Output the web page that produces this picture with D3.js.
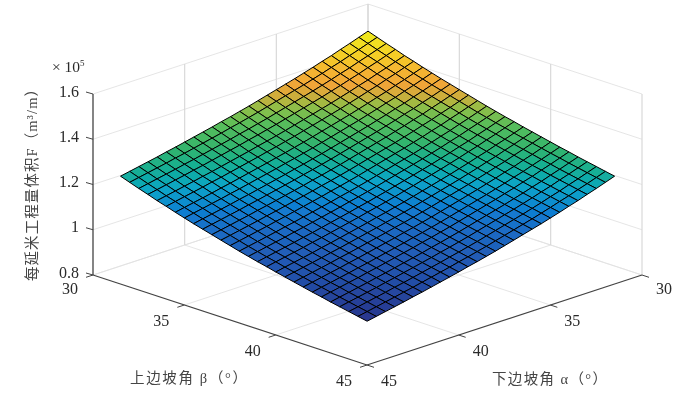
<!DOCTYPE html>
<html>
<head>
<meta charset="utf-8">
<script src="https://cdn.jsdelivr.net/npm/d3@7"></script>
<style>
  html, body { margin: 0; background: #fff; }
  text { font-family: "Liberation Serif", "Noto Sans CJK SC", serif; fill: #2a2a2a; }
</style>
</head>
<body>
<div id="chart"></div>
<script>
var alphaValues = [30,30.5,31,31.5,32,32.5,33,33.5,34,34.5,35,35.5,36,36.5,37,37.5,38,38.5,39,39.5,40,40.5,41,41.5,42,42.5,43,43.5];
var betaValues = [30,30.5,31,31.5,32,32.5,33,33.5,34,34.5,35,35.5,36,36.5,37,37.5,38,38.5,39,39.5,40,40.5,41,41.5,42,42.5,43,43.5];
var angleTicks = [30,35,40,45];
var zTicks = [0.8,1,1.2,1.4,1.6];
var zTickLabels = ["0.8","1","1.2","1.4","1.6"];
// colours as they read on the picture, from the lowest face to the highest
var colorLevels = [0.914,0.996,1.080,1.126,1.174,1.213,1.250,1.296,1.330,1.348,1.373,1.404,1.437,1.480];
var colorValues = ["#2a3288","#2350aa","#1e69c3","#0f7dd2","#0aa5c8","#14af96","#32b46e","#5abe5a","#96be46","#c8af3c","#f0a537","#f5b432","#f5cd28","#f0e61e"];

// volume, x 10^5, rows = alpha, columns = beta
var volume = [
[1.480,1.466,1.452,1.439,1.425,1.413,1.400,1.388,1.376,1.365,1.354,1.343,1.332,1.321,1.311,1.301,1.292,1.282,1.273,1.264,1.255,1.246,1.238,1.229,1.221,1.213,1.205,1.197],
[1.466,1.452,1.438,1.425,1.411,1.399,1.386,1.374,1.362,1.351,1.340,1.329,1.318,1.307,1.297,1.287,1.278,1.268,1.259,1.250,1.241,1.232,1.224,1.215,1.207,1.199,1.191,1.183],
[1.452,1.438,1.424,1.411,1.397,1.385,1.372,1.360,1.348,1.337,1.326,1.315,1.304,1.293,1.283,1.273,1.264,1.254,1.245,1.236,1.227,1.218,1.210,1.201,1.193,1.185,1.177,1.169],
[1.439,1.425,1.411,1.398,1.384,1.372,1.359,1.347,1.335,1.324,1.313,1.302,1.291,1.280,1.270,1.260,1.251,1.241,1.232,1.223,1.214,1.205,1.197,1.188,1.180,1.172,1.164,1.156],
[1.425,1.411,1.397,1.384,1.370,1.358,1.345,1.333,1.321,1.310,1.299,1.288,1.277,1.266,1.256,1.246,1.237,1.227,1.218,1.209,1.200,1.191,1.183,1.174,1.166,1.158,1.150,1.142],
[1.413,1.399,1.385,1.372,1.358,1.346,1.333,1.321,1.309,1.298,1.287,1.276,1.265,1.254,1.244,1.234,1.225,1.215,1.206,1.197,1.188,1.179,1.171,1.162,1.154,1.146,1.138,1.130],
[1.400,1.386,1.372,1.359,1.345,1.333,1.320,1.308,1.296,1.285,1.274,1.263,1.252,1.241,1.231,1.221,1.212,1.202,1.193,1.184,1.175,1.166,1.158,1.149,1.141,1.133,1.125,1.117],
[1.388,1.374,1.360,1.347,1.333,1.321,1.308,1.296,1.284,1.273,1.262,1.251,1.240,1.229,1.219,1.209,1.200,1.190,1.181,1.172,1.163,1.154,1.146,1.137,1.129,1.121,1.113,1.105],
[1.376,1.362,1.348,1.335,1.321,1.309,1.296,1.284,1.272,1.261,1.250,1.239,1.228,1.217,1.207,1.197,1.188,1.178,1.169,1.160,1.151,1.142,1.134,1.125,1.117,1.109,1.101,1.093],
[1.365,1.351,1.337,1.324,1.310,1.298,1.285,1.273,1.261,1.250,1.239,1.228,1.217,1.206,1.196,1.186,1.177,1.167,1.158,1.149,1.140,1.131,1.123,1.114,1.106,1.098,1.090,1.082],
[1.354,1.340,1.326,1.313,1.299,1.287,1.274,1.262,1.250,1.239,1.228,1.217,1.206,1.195,1.185,1.175,1.166,1.156,1.147,1.138,1.129,1.120,1.112,1.103,1.095,1.087,1.079,1.071],
[1.343,1.329,1.315,1.302,1.288,1.276,1.263,1.251,1.239,1.228,1.217,1.206,1.195,1.184,1.174,1.164,1.155,1.145,1.136,1.127,1.118,1.109,1.101,1.092,1.084,1.076,1.068,1.060],
[1.332,1.318,1.304,1.291,1.277,1.265,1.252,1.240,1.228,1.217,1.206,1.195,1.184,1.173,1.163,1.153,1.144,1.134,1.125,1.116,1.107,1.098,1.090,1.081,1.073,1.065,1.057,1.049],
[1.321,1.307,1.293,1.280,1.266,1.254,1.241,1.229,1.217,1.206,1.195,1.184,1.173,1.162,1.152,1.142,1.133,1.123,1.114,1.105,1.096,1.087,1.079,1.070,1.062,1.054,1.046,1.038],
[1.311,1.297,1.283,1.270,1.256,1.244,1.231,1.219,1.207,1.196,1.185,1.174,1.163,1.152,1.142,1.132,1.123,1.113,1.104,1.095,1.086,1.077,1.069,1.060,1.052,1.044,1.036,1.028],
[1.301,1.287,1.273,1.260,1.246,1.234,1.221,1.209,1.197,1.186,1.175,1.164,1.153,1.142,1.132,1.122,1.113,1.103,1.094,1.085,1.076,1.067,1.059,1.050,1.042,1.034,1.026,1.018],
[1.292,1.278,1.264,1.251,1.237,1.225,1.212,1.200,1.188,1.177,1.166,1.155,1.144,1.133,1.123,1.113,1.104,1.094,1.085,1.076,1.067,1.058,1.050,1.041,1.033,1.025,1.017,1.009],
[1.282,1.268,1.254,1.241,1.227,1.215,1.202,1.190,1.178,1.167,1.156,1.145,1.134,1.123,1.113,1.103,1.094,1.084,1.075,1.066,1.057,1.048,1.040,1.031,1.023,1.015,1.007,0.999],
[1.273,1.259,1.245,1.232,1.218,1.206,1.193,1.181,1.169,1.158,1.147,1.136,1.125,1.114,1.104,1.094,1.085,1.075,1.066,1.057,1.048,1.039,1.031,1.022,1.014,1.006,0.998,0.990],
[1.264,1.250,1.236,1.223,1.209,1.197,1.184,1.172,1.160,1.149,1.138,1.127,1.116,1.105,1.095,1.085,1.076,1.066,1.057,1.048,1.039,1.030,1.022,1.013,1.005,0.997,0.989,0.981],
[1.255,1.241,1.227,1.214,1.200,1.188,1.175,1.163,1.151,1.140,1.129,1.118,1.107,1.096,1.086,1.076,1.067,1.057,1.048,1.039,1.030,1.021,1.013,1.004,0.996,0.988,0.980,0.972],
[1.246,1.232,1.218,1.205,1.191,1.179,1.166,1.154,1.142,1.131,1.120,1.109,1.098,1.087,1.077,1.067,1.058,1.048,1.039,1.030,1.021,1.012,1.004,0.995,0.987,0.979,0.971,0.963],
[1.238,1.224,1.210,1.197,1.183,1.171,1.158,1.146,1.134,1.123,1.112,1.101,1.090,1.079,1.069,1.059,1.050,1.040,1.031,1.022,1.013,1.004,0.996,0.987,0.979,0.971,0.963,0.955],
[1.229,1.215,1.201,1.188,1.174,1.162,1.149,1.137,1.125,1.114,1.103,1.092,1.081,1.070,1.060,1.050,1.041,1.031,1.022,1.013,1.004,0.995,0.987,0.978,0.970,0.962,0.954,0.946],
[1.221,1.207,1.193,1.180,1.166,1.154,1.141,1.129,1.117,1.106,1.095,1.084,1.073,1.062,1.052,1.042,1.033,1.023,1.014,1.005,0.996,0.987,0.979,0.970,0.962,0.954,0.946,0.938],
[1.213,1.199,1.185,1.172,1.158,1.146,1.133,1.121,1.109,1.098,1.087,1.076,1.065,1.054,1.044,1.034,1.025,1.015,1.006,0.997,0.988,0.979,0.971,0.962,0.954,0.946,0.938,0.930],
[1.205,1.191,1.177,1.164,1.150,1.138,1.125,1.113,1.101,1.090,1.079,1.068,1.057,1.046,1.036,1.026,1.017,1.007,0.998,0.989,0.980,0.971,0.963,0.954,0.946,0.938,0.930,0.922],
[1.197,1.183,1.169,1.156,1.142,1.130,1.117,1.105,1.093,1.082,1.071,1.060,1.049,1.038,1.028,1.018,1.009,0.999,0.990,0.981,0.972,0.963,0.955,0.946,0.938,0.930,0.922,0.914]
];

var width = 687, height = 393;

var svg = d3.select("#chart").append("svg")
    .attr("width", width)
    .attr("height", height)
    .style("display", "block");

// the reference is a soft scan
var defs = svg.append("defs");
defs.append("filter").attr("id", "soft")
    .append("feGaussianBlur").attr("stdDeviation", 0.4);

var g = svg.append("g").attr("filter", "url(#soft)");

// floor corner at alpha=30, beta=30 sits at (368,185), the projection is orthographic
var alphaX = d3.scaleLinear().domain([30,45]).range([0,-275]);
var alphaY = d3.scaleLinear().domain([30,45]).range([0,90]);
var betaX = d3.scaleLinear().domain([30,45]).range([0,274]);
var betaY = d3.scaleLinear().domain([30,45]).range([0,90]);
var zY = d3.scaleLinear().domain([0.8,1.6]).range([0,-181]);

function px(a,b) { return 368 + alphaX(a) + betaX(b); }
function py(a,b,z) { return 185 + alphaY(a) + betaY(b) + zY(z); }
function pt(a,b,z) { return [px(a,b), py(a,b,z)]; }

var color = d3.scaleLinear().domain(colorLevels).range(colorValues);

function seg(p, q, stroke, w) {
    g.append("line")
        .attr("x1", p[0]).attr("y1", p[1])
        .attr("x2", q[0]).attr("y2", q[1])
        .attr("stroke", stroke)
        .attr("stroke-width", w);
}

var gridColor = "#e2e2e2";

// walls and floor grid
zTicks.forEach(function(z) {
    seg(pt(45,30,z), pt(30,30,z), gridColor, 0.9);
    seg(pt(30,30,z), pt(30,45,z), gridColor, 0.9);
});
angleTicks.forEach(function(t) {
    if (t != 45) {
        seg(pt(t,30,0.8), pt(t,30,1.6), "#d9d9d9", 1.2);
        seg(pt(t,30,0.8), pt(t,45,0.8), gridColor, 0.9);
        seg(pt(30,t,0.8), pt(45,t,0.8), gridColor, 0.9);
    }
    seg(pt(30,t,0.8), pt(30,t,1.6), "#d9d9d9", 1.2);
});

// axes
seg(pt(45,30,0.8), pt(45,30,1.6), "#222", 1.1);
seg(pt(45,30,0.8), pt(45,45,0.8), "#444", 1.2);
seg(pt(45,45,0.8), pt(30,45,0.8), "#444", 1.2);

zTicks.forEach(function(z, i) {
    var p = pt(45,30,z);
    seg([p[0] - 7, p[1] - 2], p, "#444", 1);
    g.append("text")
        .attr("x", 79)
        .attr("y", p[1] + 2.5)
        .attr("text-anchor", "end")
        .attr("font-size", 16)
        .text(zTickLabels[i]);
});

angleTicks.forEach(function(t) {
    var p = pt(45,t,0.8);
    seg([p[0] - 7, p[1] + 2.3], p, "#444", 1);
    g.append("text")
        .attr("x", p[0] - 23)
        .attr("y", p[1] + (t == 30 ? 19 : 21))
        .attr("text-anchor", "middle")
        .attr("font-size", 16)
        .text(t);
    var q = pt(t,45,0.8);
    seg(q, [q[0] + 7, q[1] + 2.3], "#444", 1);
    g.append("text")
        .attr("x", q[0] + 22)
        .attr("y", q[1] + (t == 30 ? 19 : 21))
        .attr("text-anchor", "middle")
        .attr("font-size", 16)
        .text(t);
});

// surface, back to front
var faces = [];
d3.range(alphaValues.length - 1).forEach(function(i) {
    d3.range(betaValues.length - 1).forEach(function(j) {
        faces.push({i: i, j: j});
    });
});
faces.sort(function(p, q) { return (p.i + p.j) - (q.i + q.j); });

g.append("g").selectAll("path").data(faces).enter().append("path")
    .attr("d", function(f) {
        var a0 = alphaValues[f.i], a1 = alphaValues[f.i + 1];
        var b0 = betaValues[f.j], b1 = betaValues[f.j + 1];
        return "M" + pt(a0,b0,volume[f.i][f.j])
            + "L" + pt(a1,b0,volume[f.i + 1][f.j])
            + "L" + pt(a1,b1,volume[f.i + 1][f.j + 1])
            + "L" + pt(a0,b1,volume[f.i][f.j + 1]) + "Z";
    })
    .attr("fill", function(f) { return color(volume[f.i][f.j]); })
    .attr("stroke", "#000")
    .attr("stroke-width", 1);

// labels
g.append("text")
    .attr("x", 52).attr("y", 72)
    .attr("font-size", 15.5)
    .text("× 10");
g.append("text")
    .attr("x", 80).attr("y", 66)
    .attr("font-size", 9)
    .text("5");

g.append("text")
    .attr("transform", "translate(37,281) rotate(-90)")
    .attr("font-size", 14.5)
    .attr("textLength", 199)
    .attr("lengthAdjust", "spacing")
    .style("fill", "#444")
    .text("每延米工程量体积F（m³/m）");

g.append("text")
    .attr("x", 130).attr("y", 383)
    .attr("font-size", 14.5)
    .attr("textLength", 117)
    .attr("lengthAdjust", "spacing")
    .style("fill", "#444")
    .text("上边坡角 β（°）");

g.append("text")
    .attr("x", 492).attr("y", 384)
    .attr("font-size", 14.5)
    .attr("textLength", 115)
    .attr("lengthAdjust", "spacing")
    .style("fill", "#444")
    .text("下边坡角 α（°）");
</script>
</body>
</html>
